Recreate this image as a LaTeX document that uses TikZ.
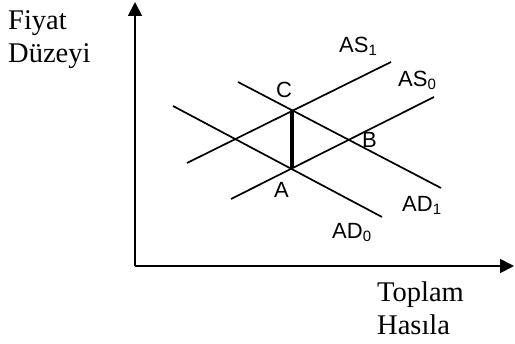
\documentclass[tikz,border=0pt]{standalone}
\usepackage{fontspec}
\setmainfont{Liberation Serif}
\newfontfamily\arialf{Liberation Sans}
\usetikzlibrary{arrows.meta}
\tikzset{
  axisline/.style={line width=1.8pt, -{Triangle[length=14pt,width=14pt]}},
  curve/.style={line width=1.7pt},
  shiftline/.style={line width=3.6pt},
  ptlabel/.style={anchor=base west, inner sep=0pt, font=\arialf\fontsize{22}{22}\selectfont},
  axlabel/.style={anchor=base west, inner sep=0pt, align=left, font=\fontsize{28.5}{33}\selectfont}
}
\newcommand{\subidx}[1]{\raisebox{-2.5pt}{\fontsize{15}{15}\selectfont #1}}
\begin{document}
\begin{tikzpicture}[x=1pt,y=-1pt]
\useasboundingbox (0,0) rectangle (515,344);
% axes
\coordinate (O) at (135,266);
\coordinate (Ytop) at (135,2);
\coordinate (Xend) at (514,266);
\draw[axisline] (O) -- (Ytop);
\draw[axisline] (O) -- (Xend);
% key points
\coordinate (C) at (291.7,110);
\coordinate (A) at (291.7,168.5);
% curves
\coordinate (as1s) at (187,163);
\coordinate (as1e) at (391,62);
\coordinate (as0s) at (231,199);
\coordinate (as0e) at (434,97);
\coordinate (ad1s) at (238,82);
\coordinate (ad1e) at (441,188);
\coordinate (ad0s) at (173,106);
\coordinate (ad0e) at (382,217);
\draw[curve] (as1s) -- (as1e);
\draw[curve] (as0s) -- (as0e);
\draw[curve] (ad1s) -- (ad1e);
\draw[curve] (ad0s) -- (ad0e);
\draw[shiftline] (C) -- (A);
% labels
\node[ptlabel] (lAS1) at (339,53) {AS\subidx{1}};
\node[ptlabel] (lAS0) at (398,87) {AS\subidx{0}};
\node[ptlabel] (lC) at (276,98) {C};
\node[ptlabel] (lB) at (362,148) {B};
\node[ptlabel] (lA) at (274,198) {A};
\node[ptlabel] (lAD1) at (402,212) {AD\subidx{1}};
\node[ptlabel] (lAD0) at (332,239) {AD\subidx{0}};
\node[axlabel] (ylab) at (8,63) {Fiyat\\Düzeyi};
\node[axlabel] (xlab) at (377,335) {Toplam\\Hasıla};
\end{tikzpicture}
\end{document}
